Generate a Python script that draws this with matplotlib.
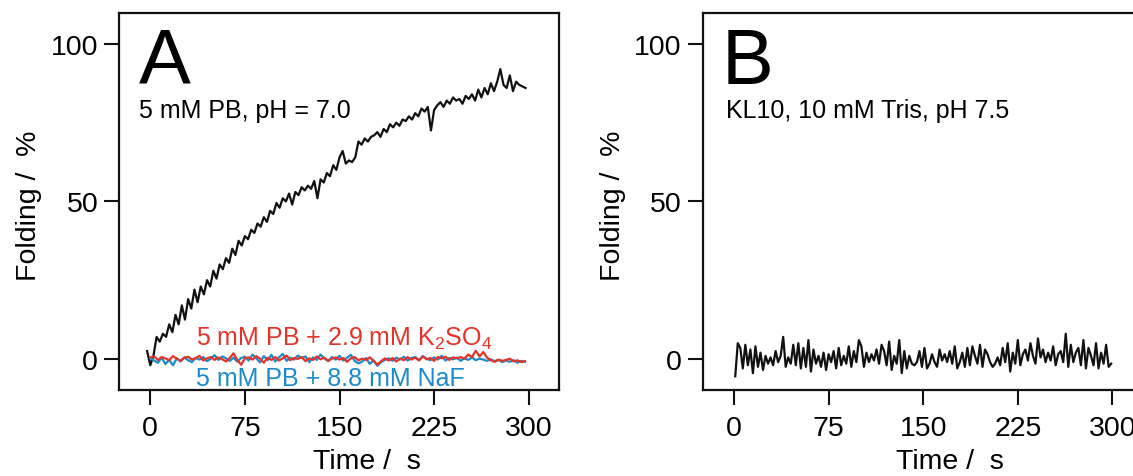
import numpy as np
import matplotlib
matplotlib.use("Agg")
import matplotlib.pyplot as plt

plt.rcParams['font.family'] = ['Liberation Sans', 'DejaVu Sans']
plt.rcParams['mathtext.fontset'] = 'custom'
plt.rcParams['mathtext.rm'] = 'Liberation Sans'
plt.rcParams['mathtext.it'] = 'Liberation Sans:italic'

# ---------------- data ----------------
# Panel A, black: 5 mM PB, pH 7.0 (sampled every 2.5 s starting at -2.5 s)
a_black_t0, a_black_dt = -2.5, 2.5
a_black = [2.5, -2, 1, 7, 5.5, 8, 7, 11, 8.5, 14,
           11, 17, 12.5, 19, 16, 22, 18, 23, 20.5, 25,
           23, 28, 25.5, 30, 28.5, 32, 30.5, 35, 33, 37.5,
           36, 39, 38, 41, 40, 43, 42, 45, 43.5, 47,
           46, 49.5, 48, 51, 50, 52.5, 49, 53, 52, 54.5,
           53.5, 55, 54, 56.5, 51, 57, 56, 59, 58, 61.5,
           60, 64, 66, 62, 63, 62.5, 64, 69, 68, 70,
           69, 70.5, 71, 72, 70.5, 73, 72, 74.5, 73.5, 75,
           74, 76, 75.5, 77, 76, 78, 77, 79.5, 78.5, 80,
           72.5, 79, 80.5, 81.5, 80, 82, 81, 83, 82, 82.5,
           81, 83.5, 82.5, 84, 82, 85.5, 83, 86, 84, 87.5,
           85, 88, 92, 87, 86, 90, 85, 88, 87, 86.5, 86]

# Panel A, red: + 2.9 mM K2SO4 (every 3 s from 0 s)
a_red_dt = 3.0
a_red = [0.5, 0.8, -0.3, 0.6, 0.2, -0.4, 0.9, 0.1, -0.6, 0.4,
         0.7, -0.2, 0.3, 1.0, -0.5, 0.2, 0.6, -0.3, 0.5, -0.1,
         -0.8, 0.3, 1.8, -0.4, -1.8, 0.2, 0.5, -0.2, 0.9, 0.1,
         -1.2, 0.4, -0.3, 0.6, -0.5, 0.2, 1.1, -0.4, 0.3, 0.0,
         0.6, -0.7, 0.2, -0.3, 0.8, -0.1, 0.4, -0.6, 0.1, 0.5,
         -0.2, 0.3, -0.9, 0.2, 0.6, -0.4, 0.1, -0.3, 0.5, -0.6,
         -1.8, -0.7, 0.2, -0.5, 0.3, -0.8, 0.1, -0.4, 0.6, -0.2,
         0.4, -0.5, 0.8, -0.1, 0.3, -0.6, 0.6, 0.2, 0.7, -0.3,
         0.5, 0.2, 0.6, 0.1, 1.4, 0.6, 2.6, 0.8, 2.2, 0.4,
         -0.4, -0.9, -0.2, -0.6, -0.3, 0.1, -0.8, -0.4, -1.0, -0.7]

# Panel A, blue: + 8.8 mM NaF (every 3 s from 0 s)
a_blue_dt = 3.0
a_blue = [0.3, -0.5, -1.2, 0.4, -1.6, -0.3, -2.0, 0.2, -0.8, 0.5,
          -0.4, -1.0, 0.3, -0.2, 0.6, -0.7, 0.1, 1.2, -0.3, 0.8,
          0.2, -0.6, 0.4, -0.9, 0.3, 0.7, -0.5, 1.4, 0.2, -1.1,
          0.9, -0.4, 1.3, -0.8, 0.5, 1.6, -0.6, 0.4, -0.2, 1.1,
          0.3, 0.8, -1.0, 0.5, -0.3, 1.4, 0.2, -0.7, 0.6, -0.2,
          1.0, -0.5, 0.4, 1.3, -0.6, -1.4, -0.8, 0.3, -1.6, -0.4,
          -2.2, -1.0, -0.3, 0.2, -0.6, 0.4, -0.2, 0.7, -0.5, 0.3,
          0.6, -0.3, 0.9, 0.1, -0.4, 0.5, -0.2, 1.0, -0.5, 0.3,
          -0.1, 0.4, -0.6, 0.2, -0.3, 0.5, -0.4, 0.1, -0.2, -0.6,
          -0.1, -0.7, -0.3, -1.0, -0.5, -0.9, -0.4, -1.2, -0.6, -0.9]

# Panel B, black: KL10, 10 mM Tris, pH 7.5 (every 2 s from 1 s)
b_black_t0, b_black_dt = 1.0, 2.0
b_black = [-5.5, 5.0, 3.5, -3.0, 4.5, -2.0, 3.0, -4.5, 4.0, -2.5,
           2.0, -3.5, 1.0, -1.5, 0.5, -2.0, 2.5, -1.0, 1.0, 7.0,
           -2.5, 0.5, -1.5, 4.5, -2.0, 5.0, -3.0, 3.5, -2.5, 6.0,
           -4.0, 3.0, -1.5, 1.0, -2.5, 2.0, -3.5, 1.5, -1.0, 2.5,
           -3.0, 3.5, -2.0, 1.0, -1.5, 4.0, -2.5, 2.5, -1.0, 6.0,
           4.0, -2.5, 2.0, -1.0, 1.5, -0.5, 3.0, -1.5, 4.5, 2.5,
           -2.0, 5.5, -3.5, 1.0, -1.5, 6.0, -4.5, 2.5, -3.0, 1.0,
           -1.5, -2.0, -1.0, 2.5, -2.5, 3.5, -3.0, -1.5, 1.5, -1.0,
           -2.5, 3.0, -0.5, 1.5, -1.0, 2.5, -1.5, 4.0, -3.0, -1.0,
           2.0, -2.5, 3.5, -2.0, 4.0, 1.0, -1.5, 4.5, -2.5, 3.0,
           1.5, -1.0, -2.5, -1.5, 0.5, -2.0, 3.5, -1.0, 5.0, -4.0,
           2.0, -1.5, 6.0, -2.0, 1.5, 3.0, -0.5, 5.0, 1.0, -1.5,
           6.5, 0.5, 3.0, -1.0, 2.0, -0.5, 4.0, -2.0, 1.5, 2.5,
           -1.0, 8.0, -2.5, 4.5, -1.0, 2.0, 3.5, -2.0, 6.0, -3.0,
           3.5, 1.0, -2.0, 5.0, -3.0, 2.0, -1.5, 4.5, -2.5, -1.5]

x_ticks = [0, 75, 150, 225, 300]
y_ticks = [0, 50, 100]
panel_letters = ["A", "B"]
panel_notes = ["5 mM PB, pH = 7.0", "KL10, 10 mM Tris, pH 7.5"]
label_red = r"5 mM PB + 2.9 mM K$_\mathregular{2}$SO$_\mathregular{4}$"
label_blue = "5 mM PB + 8.8 mM NaF"

RED = "#E4342A"
BLUE = "#1B8BCB"
INK = "#111111"

# ---------------- figure ----------------
W, H = 1133, 477
fig = plt.figure(figsize=(W / 100, H / 100), dpi=100)
axA = fig.add_axes([119 / W, 86 / H, 440 / W, 377 / H])
axB = fig.add_axes([702.7 / W, 86 / H, 440 / W, 377 / H])

LW = 1.6
tA = a_black_t0 + a_black_dt * np.arange(len(a_black))
axA.plot(tA, a_black, color=INK, lw=LW)
tR = a_red_dt * np.arange(len(a_red))
tBl = a_blue_dt * np.arange(len(a_blue))
axA.plot(tBl, a_blue, color=BLUE, lw=LW)
axA.plot(tR, a_red, color=RED, lw=LW)

tB = b_black_t0 + b_black_dt * np.arange(len(b_black))
axB.plot(tB, b_black, color=INK, lw=LW)

for ax, letter, note, nx in zip([axA, axB], panel_letters, panel_notes,
                                [0.046, 0.052]):
    ax.set_xlim(-24.8, 324)
    ax.set_ylim(-9.85, 109.8)
    ax.set_xticks(x_ticks)
    ax.set_yticks(y_ticks)
    ax.tick_params(axis="both", direction="out", length=11, width=1.5,
                   labelsize=20.5, color=INK)
    ax.tick_params(axis="y", pad=4)
    ax.tick_params(axis="x", pad=7)
    for s in ax.spines.values():
        s.set_linewidth(1.6)
        s.set_color(INK)
    ax.text(0.044, 0.815, letter, transform=ax.transAxes, fontsize=56,
            ha="left", va="baseline")
    ax.text(nx, 0.725, note, transform=ax.transAxes, fontsize=18,
            ha="left", va="baseline")
    ax.text(0.5625, -0.208, "Time /  s", transform=ax.transAxes,
            fontsize=20.5, ha="center", va="baseline")

fig.text(29 / W, 1 - 206 / H, "Folding /  %", rotation=90, fontsize=20.5,
         ha="center", va="center")
fig.text(613 / W, 1 - 206 / H, "Folding /  %", rotation=90, fontsize=20.5,
         ha="center", va="center")

axA.text(0.175, 0.119, label_red, transform=axA.transAxes, fontsize=18,
         color=RED, ha="left", va="baseline")
axA.text(0.175, 0.0133, label_blue, transform=axA.transAxes, fontsize=18,
         color=BLUE, ha="left", va="baseline")

fig.savefig("out.png", dpi=100)
